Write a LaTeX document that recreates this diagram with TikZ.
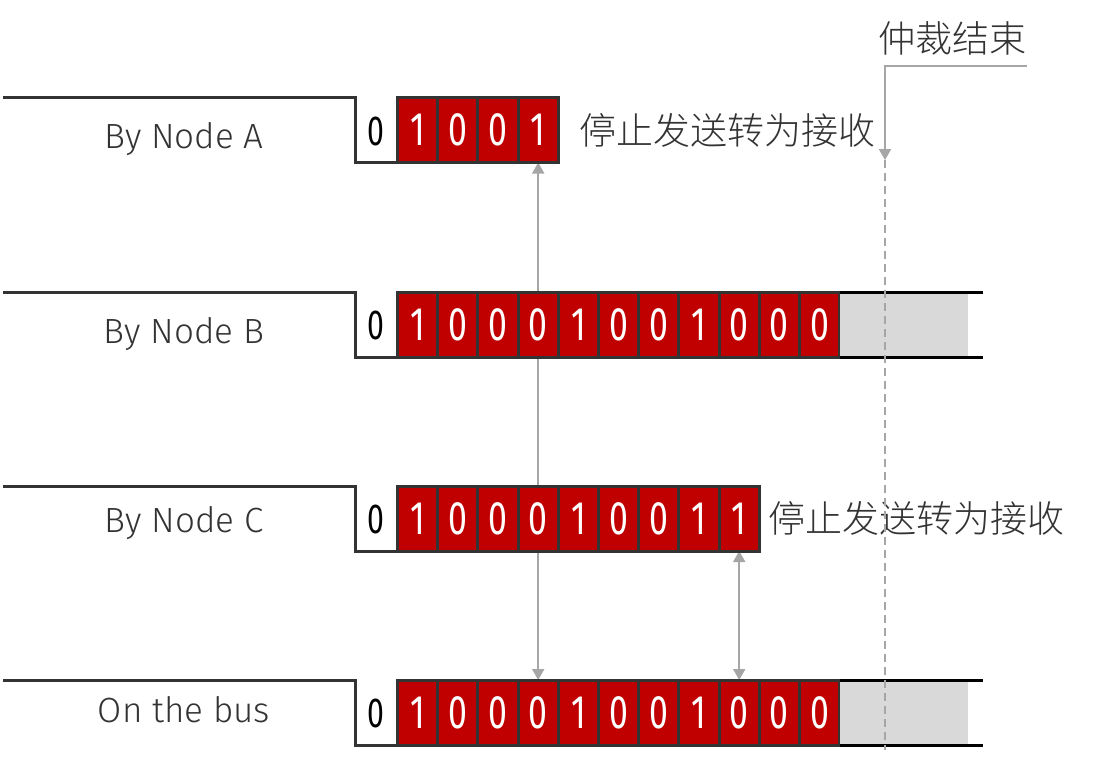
\documentclass[tikz,border=0pt]{standalone}
\usepackage{fontspec}
\IfFontExistsTF{Fira Sans Light}{\setmainfont{Fira Sans Light}}{\setmainfont{Fira Sans}}
\IfFontExistsTF{Noto Sans CJK SC Light}{\newfontfamily\cjk{Noto Sans CJK SC Light}}{\newfontfamily\cjk{Noto Sans CJK SC}}
\newfontfamily\digitfont[FakeStretch=0.72]{Fira Sans}
\usetikzlibrary{arrows.meta,positioning,backgrounds}
\definecolor{bitred}{HTML}{C00000}
\definecolor{edge}{HTML}{333333}
\definecolor{linkgray}{HTML}{A6A6A6}
\definecolor{idlegray}{HTML}{D9D9D9}

\tikzset{
  bit/.style={draw=edge, line width=3pt, fill=bitred, text=white, outer sep=0pt, inner sep=0pt,
    minimum width=40.2pt, minimum height=65pt, font=\digitfont\fontsize{47}{47}\selectfont},
  zerobit/.style={inner sep=0pt, text=black, font=\digitfont\fontsize{42}{42}\selectfont},
  rowlabel/.style={anchor=base, inner sep=0pt, text=edge, font=\fontsize{35}{35}\selectfont},
  signal/.style={draw=edge, line width=3pt},
  busline/.style={draw=black, line width=3pt},
  link/.style={draw=linkgray, line width=2pt},
  cjktext/.style={inner sep=0pt, text=edge, font=\cjk\fontsize{37}{37}\selectfont},
}

\begin{document}
\begin{tikzpicture}[x=1pt, y=-1pt, >={Triangle[width=12pt,length=11pt]}]
\useasboundingbox (0,0) rectangle (1094,760);
\def\cw{40.2}
\def\x0{397.5}
% one row per frame
\foreach \row/\y/\base/\lbl/\bits in {
    A/130/148/{By Node A}/{1,0,0,1},
    B/324.5/343/{By Node B}/{1,0,0,0,1,0,0,1,0,0,0},
    C/518.5/532/{By Node C}/{1,0,0,0,1,0,0,1,1},
    D/712.5/722/{On the bus}/{1,0,0,0,1,0,0,1,0,0,0}}{
  \draw[signal] (3,\y-32.5) -- (355,\y-32.5) -- (355,\y+32.5) -- (\x0,\y+32.5);
  \node[rowlabel] (lbl\row) at (184,\base) {\lbl};
  \node[zerobit] (zero\row) at (376,\y+1) {0};
  \foreach \b [count=\i] in \bits {
    \node[bit] (\row\i) at ({\x0+\cw*(\i-0.5)},\y) {\b};
  }
}
% idle bus after the frame
\foreach \row in {B,D}{
  \fill[idlegray] (\row11.north east) rectangle ([xshift=128pt]\row11.south east);
  \draw[busline] (\row11.north east) -- ++(143,0);
  \draw[busline] (\row11.south east) -- ++(143,0);
}
\begin{scope}[on background layer]
  \draw[link,<->] (A4.south) -- (D4.north);
  \draw[link,<->] (C9.south) -- (D9.north);
\end{scope}
\node[cjktext, anchor=west, right=21pt of A4] (stopA) {停止发送转为接收};
\node[cjktext, anchor=west, right=9pt of C9] (stopC) {停止发送转为接收};
% end of arbitration
\node[cjktext, inner ysep=11pt, anchor=south east] (arb) at (1027,66) {仲裁结束};
\coordinate (arbend) at (885,160);
\coordinate (arbfoot) at (885,750);
\draw[link,->] (arb.south east) -| (arbend);
\draw[link, dash pattern=on 8pt off 5pt] (arbend) -- (arbfoot);
\end{tikzpicture}
\end{document}
